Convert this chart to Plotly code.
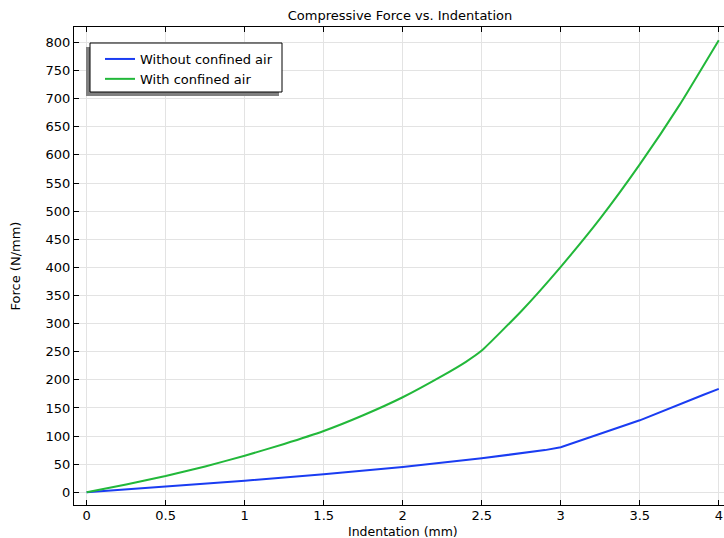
import plotly.graph_objects as go

# Data
x_without = [0, 0.5, 1, 1.5, 2, 2.5, 2.9, 3, 3.5, 3.9, 4]
y_without = [0, 10, 20.6, 32, 45, 60.5, 75, 80, 128, 173, 184]

x_with = [0, 0.25, 0.5, 0.75, 1, 1.25, 1.5, 1.75, 2, 2.25, 2.4, 2.5, 2.75, 3, 3.25, 3.5, 3.75, 4]
y_with = [0, 14, 29, 46, 65, 86, 109, 137, 169, 207, 232, 252, 322, 401, 487, 583, 688, 804]

x_ticks = [0, 0.5, 1, 1.5, 2, 2.5, 3, 3.5, 4]
x_tick_labels = ["0", "0.5", "1", "1.5", "2", "2.5", "3", "3.5", "4"]
y_ticks = list(range(0, 801, 50))

series_names = ["Without confined air", "With confined air"]
colors = ["#1a3cf2", "#22b83a"]

W, H = 724, 538
ML, MR, MT, MB = 74, 0, 27, 33
PW, PH = W - ML - MR, H - MT - MB

def px_x(p):
    return (p - ML) / PW

def px_y(p):
    return (H - MB - p) / PH

fig = go.Figure()
fig.add_trace(go.Scatter(x=x_without, y=y_without, mode="lines", name=series_names[0],
                         line=dict(color=colors[0], width=2)))
fig.add_trace(go.Scatter(x=x_with, y=y_with, mode="lines", name=series_names[1],
                         line=dict(color=colors[1], width=2, shape="spline", smoothing=0.4)))

font = "DejaVu Sans, sans-serif"
fig.update_layout(
    width=W, height=H,
    margin=dict(l=ML, r=MR, t=MT, b=MB, pad=0, autoexpand=False),
    paper_bgcolor="white", plot_bgcolor="white",
    font=dict(family=font, size=13, color="black"),
    title=dict(text="Compressive Force vs. Indentation", font=dict(size=13),
               xref="container", x=400 / W, xanchor="center",
               yref="container", y=1 - 15 / H, yanchor="middle"),
    showlegend=True,
    legend=dict(x=px_x(100), y=px_y(44), xanchor="left", yanchor="top",
                bgcolor="rgba(0,0,0,0)", borderwidth=0,
                font=dict(size=13), tracegroupgap=0),
    xaxis=dict(range=[-0.08, 4.033], tickvals=x_ticks, ticktext=x_tick_labels,
               automargin=False, ticklabelstandoff=-2,
               showgrid=True, gridcolor="#e3e3e3", gridwidth=1, zeroline=False,
               showline=True, linecolor="black", linewidth=1, mirror="ticks",
               ticks="inside", ticklen=5, tickcolor="black"),
    yaxis=dict(range=[-22.6, 827.4], tickvals=y_ticks,
               automargin=False,
               showgrid=True, gridcolor="#e3e3e3", gridwidth=1, zeroline=False,
               showline=True, linecolor="black", linewidth=1,
               ticks="inside", ticklen=5, tickcolor="black",
               title=dict(text="Force (N/mm)", standoff=22, font=dict(size=13))),
    annotations=[dict(text="Indentation (mm)", xref="paper", yref="paper",
                      x=px_x(403), y=px_y(531), xanchor="center", yanchor="middle",
                      showarrow=False, font=dict(size=12.5))],
    shapes=[
        dict(type="rect", xref="paper", yref="paper",
             x0=px_x(86), x1=px_x(279), y0=px_y(96), y1=px_y(47),
             fillcolor="#808080", line=dict(width=0), layer="above"),
        dict(type="rect", xref="paper", yref="paper",
             x0=px_x(90), x1=px_x(282), y0=px_y(92), y1=px_y(43),
             fillcolor="white", line=dict(color="black", width=1), layer="above"),
    ],
)

fig.write_html("out.html")
